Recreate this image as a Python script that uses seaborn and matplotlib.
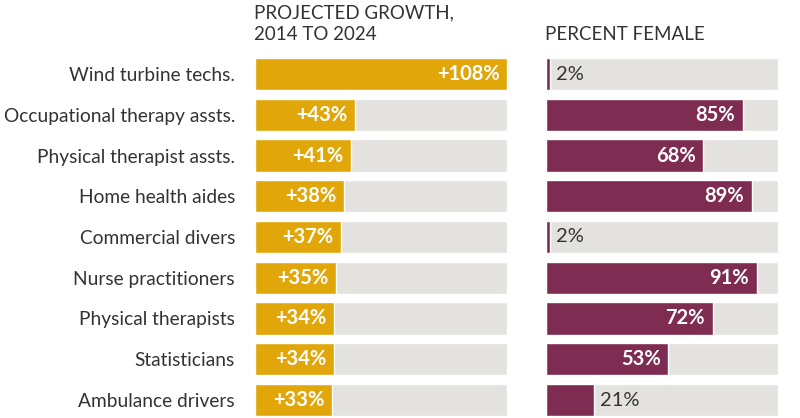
import matplotlib
matplotlib.use("Agg")
import matplotlib.pyplot as plt
import seaborn as sns
import pandas as pd

# data
jobs = ["Wind turbine techs.", "Occupational therapy assts.", "Physical therapist assts.",
        "Home health aides", "Commercial divers", "Nurse practitioners",
        "Physical therapists", "Statisticians", "Ambulance drivers"]
growth = [108, 43, 41, 38, 37, 35, 34, 34, 33]
female = [2, 85, 68, 89, 2, 91, 72, 53, 21]

GOLD = "#E1A70A"
PLUM = "#7F2C52"
GREY = "#E3E2DE"
DARK = "#333333"

sns.set_theme(style="white")
plt.rcParams["font.family"] = ["Lato", "DejaVu Sans"]

df = pd.DataFrame({"job": jobs, "growth": growth, "female": female})
df["growth_max"] = max(growth)
df["female_max"] = 100

W, H = 800, 418
fig = plt.figure(figsize=(W / 100, H / 100), dpi=100)

pitch = 40.75
top = 74 - pitch / 2
bottom = 74 + pitch * 8.5


def make_ax(x0, x1):
    return fig.add_axes([x0 / W, 1 - bottom / H, (x1 - x0) / W, (bottom - top) / H])


ax1 = make_ax(254.5, 507.5)
ax2 = make_ax(545.5, 777.5)

bh = 0.79
for ax, col, cmax, color in [(ax1, "growth", "growth_max", GOLD), (ax2, "female", "female_max", PLUM)]:
    sns.barplot(data=df, x=cmax, y="job", orient="h", color=GREY, width=bh,
                saturation=1, ax=ax, zorder=1)
    sns.barplot(data=df, x=col, y="job", orient="h", color=color, width=bh,
                saturation=1, ax=ax, zorder=2)
    ax.set_xlim(0, df[cmax].iloc[0])
    ax.set_ylim(len(jobs) - 0.5, -0.5)
    ax.set_xlabel("")
    ax.set_ylabel("")
    ax.set_xticks([])
    for s in ax.spines.values():
        s.set_visible(False)

ax1.set_yticks(range(len(jobs)))
ax1.set_yticklabels(jobs, fontsize=13.8, color=DARK)
ax1.tick_params(axis="y", length=0, pad=14)
ax2.set_yticks([])

# value labels
for i, v in enumerate(growth):
    ax1.annotate(f"+{v}%", (v, i), xytext=(-5.5, 0), textcoords="offset points",
                 ha="right", va="center", color="white", fontsize=14.5, fontweight="bold")
for i, v in enumerate(female):
    if v >= 50:
        ax2.annotate(f"{v}%", (v, i), xytext=(-5.5, 0), textcoords="offset points",
                     ha="right", va="center", color="white", fontsize=14.5, fontweight="bold")
    else:
        ax2.annotate(f"{v}%", (v, i), xytext=(4.5, 0), textcoords="offset points",
                     ha="left", va="center", color=DARK, fontsize=14.5)

fig.text(254 / W, 1 - 4 / H, "PROJECTED GROWTH,\n2014 TO 2024", ha="left", va="top",
         fontsize=13.5, color=DARK, linespacing=1.36)
fig.text(545 / W, 1 - 26 / H, "PERCENT FEMALE", ha="left", va="top",
         fontsize=13.5, color=DARK)

fig.savefig("out.png", dpi=100)
